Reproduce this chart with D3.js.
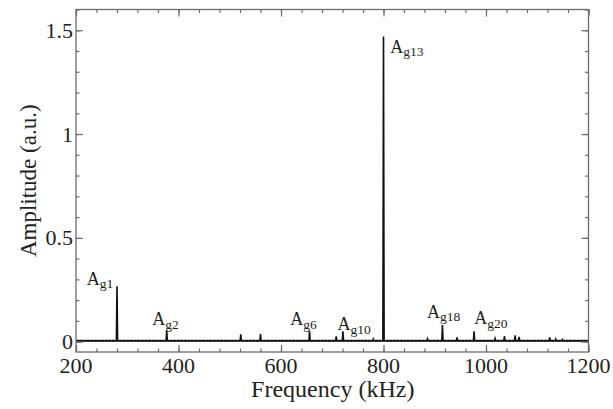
<!DOCTYPE html>
<html><head><meta charset="utf-8">
<script src="https://cdn.jsdelivr.net/npm/d3@7"></script>
</head>
<body style="margin:0">
<svg id="s" width="613" height="409"></svg>
<script>
// ---- data ----
const peakFreq = [280, 377, 521.5, 560, 655.7, 707.8, 720.8, 780, 800, 886, 915, 943.5, 976.7, 1017.7, 1036, 1056.8, 1064.6, 1124.4, 1136, 1149];
const peakAmp  = [0.267, 0.055, 0.035, 0.036, 0.05, 0.025, 0.05, 0.012, 1.47, 0.013, 0.08, 0.02, 0.05, 0.015, 0.027, 0.03, 0.023, 0.02, 0.012, 0.01];
const baseLevel = 0.004;
const labelSub  = ["g1", "g2", "g6", "g10", "g13", "g18", "g20"];
const labelFreq = [220.9, 349, 618, 710.4, 813.3, 885, 977.3];
const labelAmp  = [0.275, 0.079, 0.079, 0.055, 1.392, 0.114, 0.084];
const xTicks = [200, 400, 600, 800, 1000, 1200];
const yTicks = [0, 0.5, 1, 1.5];
const yTickLabels = ["0", "0.5", "1", "1.5"];
const xDomain = [200, 1200];
const yDomain = [-0.05, 1.6];

// ---- layout ----
const W = 613, H = 409;
const m = {left: 76, top: 9.5, right: 24.5, bottom: 57};
const svg = d3.select("#s");
const x = d3.scaleLinear().domain(xDomain).range([m.left, W - m.right]);
const y = d3.scaleLinear().domain(yDomain).range([H - m.bottom, m.top]);
const frameColor = "#6d6b6b";
const textColor = "#231f20";

// text first (same way as a plain text sample)
function addText(xp, yp, size, str, anchor) {
  return svg.append("text").attr("x", xp).attr("y", yp)
    .style("font-family", `"Times New Roman"`).attr("font-size", size)
    .attr("text-anchor", anchor || "start").attr("fill", textColor).text(str);
}
xTicks.forEach(d => addText(x(d), 373, 22, String(d), "middle"));
yTicks.forEach((d, i) => addText(m.left - 3, y(d) + 7.5, 22, yTickLabels[i], "end"));
addText((m.left + W - m.right) / 2 + 0.5, 397, 24, "Frequency (kHz)", "middle");
addText(0, 0, 23, "Amplitude (a.u.)", "middle")
  .attr("transform", `translate(36,${(m.top + H - m.bottom) / 2}) rotate(-90)`);
labelSub.forEach((s, i) => {
  const t = addText(x(labelFreq[i]), y(labelAmp[i]), 18, "A");
  t.append("tspan").attr("font-size", 13.5).attr("dy", 3.5).text(s);
});

// spectrum path
const pts = [[xDomain[0], baseLevel]];
const hw = 1.2;
peakFreq.map((f, i) => ({f, a: peakAmp[i]})).sort((a, b) => a.f - b.f).forEach(p => {
  pts.push([p.f - hw, baseLevel], [p.f, p.a], [p.f + hw, baseLevel]);
});
pts.push([xDomain[1], baseLevel]);
const line = d3.line().x(d => x(d[0])).y(d => y(d[1]));
svg.append("path").attr("d", line(pts)).attr("fill", "none")
  .attr("stroke", "#111").attr("stroke-width", 1.6);
svg.append("line").attr("x1", x(xDomain[0])).attr("x2", x(xDomain[1]))
  .attr("y1", y(baseLevel)).attr("y2", y(baseLevel))
  .attr("stroke", "#111").attr("stroke-width", 2).attr("stroke-dasharray", "3,0.6");

// ticks (inward, all four sides)
const minorX = d3.range(200, 1201, 40);
const minorY = d3.range(0, 1.61, 0.1).map(v => +v.toFixed(2));
const bottomY = H - m.bottom, rightX = W - m.right;
function ticks(gen, scale, vals, len, tr) {
  const g = svg.append("g").attr("transform", tr)
    .call(gen(scale).tickValues(vals).tickSize(len).tickFormat(""));
  g.selectAll("path").remove();
  g.selectAll("text").remove();
  g.selectAll("line").attr("stroke", frameColor).attr("stroke-width", 1.2);
}
ticks(d3.axisTop, x, minorX, 3.5, `translate(0,${bottomY})`);
ticks(d3.axisTop, x, xTicks, 7, `translate(0,${bottomY})`);
ticks(d3.axisBottom, x, minorX, 3.5, `translate(0,${m.top})`);
ticks(d3.axisBottom, x, xTicks, 7, `translate(0,${m.top})`);
ticks(d3.axisRight, y, minorY, 3.5, `translate(${m.left},0)`);
ticks(d3.axisRight, y, yTicks, 7, `translate(${m.left},0)`);
ticks(d3.axisLeft, y, minorY, 3.5, `translate(${rightX},0)`);
ticks(d3.axisLeft, y, yTicks, 7, `translate(${rightX},0)`);
svg.append("rect").attr("x", m.left).attr("y", m.top)
  .attr("width", rightX - m.left).attr("height", bottomY - m.top)
  .attr("fill", "none").attr("stroke", frameColor).attr("stroke-width", 1.3);
</script>
</body></html>
